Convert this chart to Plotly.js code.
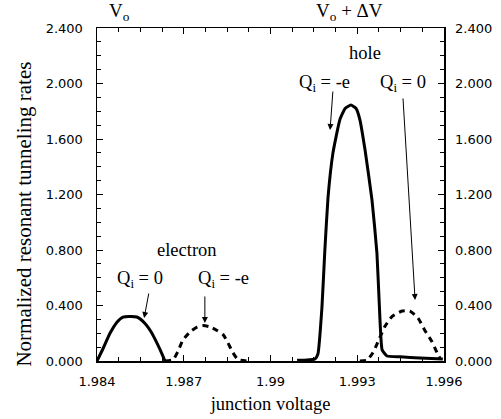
<!DOCTYPE html>
<html>
<head>
<meta charset="utf-8">
<script src="https://cdn.plot.ly/plotly-3.0.1.min.js"></script>
<style>html,body{margin:0;padding:0;background:#fff}#chart{width:501px;height:419px}</style>
</head>
<body>
<div id="chart"></div>
<script>
// Electron, Q_i = 0 (solid)
const elecQ0_x = [1.98400, 1.98421, 1.98445, 1.98469, 1.98490, 1.98514, 1.98538, 1.98566, 1.98590, 1.98607, 1.98625, 1.98635];
const elecQ0_y = [0.000, 0.090, 0.200, 0.280, 0.317, 0.320, 0.317, 0.270, 0.200, 0.130, 0.050, 0.000];
// Electron, Q_i = -e (dashed)
const elecQe_x = [1.98635, 1.98663, 1.98680, 1.98697, 1.98722, 1.98746, 1.98767, 1.98791, 1.98815, 1.98836, 1.98853, 1.98870, 1.98888, 1.98919];
const elecQe_y = [0.000, 0.010, 0.070, 0.150, 0.210, 0.245, 0.255, 0.245, 0.220, 0.190, 0.130, 0.060, 0.010, 0.000];
// Hole, Q_i = -e (solid)
const holeQe_x = [1.99092, 1.99154, 1.99164, 1.99178, 1.99188, 1.99199, 1.99216, 1.99240, 1.99258, 1.99278, 1.99296, 1.99309, 1.99327, 1.99351, 1.99368, 1.99376, 1.99386, 1.99403, 1.99448, 1.99517, 1.99596];
const holeQe_y = [0.005, 0.015, 0.050, 0.390, 0.800, 1.180, 1.500, 1.740, 1.820, 1.845, 1.820, 1.740, 1.520, 1.160, 0.780, 0.420, 0.080, 0.036, 0.030, 0.022, 0.014];
// Hole, Q_i = 0 (dashed)
const holeQ0_x = [1.99309, 1.99334, 1.99354, 1.99372, 1.99396, 1.99420, 1.99455, 1.99482, 1.99510, 1.99534, 1.99558, 1.99576, 1.99586];
const holeQ0_y = [0.000, 0.007, 0.060, 0.140, 0.250, 0.320, 0.360, 0.360, 0.310, 0.220, 0.140, 0.060, 0.020];

const xTickVals = [1.984, 1.987, 1.99, 1.993, 1.996];
const xTickText = ["1.984", "1.987", "1.99", "1.993", "1.996"];
const yTickVals = [0, 0.4, 0.8, 1.2, 1.6, 2.0, 2.4];
const yTickText = ["0.000", "0.400", "0.800", "1.200", "1.600", "2.000", "2.400"];

const serif = "Liberation Serif, Times New Roman, serif";
const sans = "DejaVu Sans, sans-serif";

const traces = [
  {x: elecQ0_x, y: elecQ0_y, mode: 'lines', line: {color: '#000', width: 3, shape: 'spline', smoothing: 0.6}, showlegend: false, hoverinfo: 'skip'},
  {x: elecQe_x, y: elecQe_y, mode: 'lines', line: {color: '#000', width: 3, dash: '6px,5px', shape: 'spline', smoothing: 0.6}, showlegend: false, hoverinfo: 'skip'},
  {x: holeQe_x, y: holeQe_y, mode: 'lines', line: {color: '#000', width: 3, shape: 'spline', smoothing: 0.4}, showlegend: false, hoverinfo: 'skip'},
  {x: holeQ0_x, y: holeQ0_y, mode: 'lines', line: {color: '#000', width: 3, dash: '6px,5px', shape: 'spline', smoothing: 0.6}, showlegend: false, hoverinfo: 'skip'},
  {x: [null], y: [null], yaxis: 'y2', mode: 'lines', showlegend: false, hoverinfo: 'skip'}
];

const annFont = {family: serif, size: 18.5, color: '#000'};
function label(x, y, text) {
  return {x: x, y: y, xref: 'x', yref: 'y', text: text, showarrow: false, font: annFont};
}
function arrow(x0, y0, x1, y1) {
  return {x: x1, y: y1, ax: x0, ay: y0, xref: 'x', yref: 'y', axref: 'x', ayref: 'y',
          text: '', showarrow: true, arrowhead: 2, arrowsize: 1.2, arrowwidth: 1, arrowcolor: '#000'};
}

const layout = {
  width: 501, height: 419,
  margin: {l: 97, r: 57, t: 28, b: 58},
  paper_bgcolor: '#fff', plot_bgcolor: '#fff',
  xaxis: {
    range: [1.984, 1.996], tickvals: xTickVals, ticktext: xTickText,
    ticks: 'inside', ticklen: 6, tickwidth: 1, tickcolor: '#000',
    minor: {dtick: 0.00075, tick0: 1.984, ticks: 'inside', ticklen: 4, tickwidth: 1, tickcolor: '#000'},
    showline: true, linecolor: '#000', linewidth: 1.5, mirror: 'ticks',
    showgrid: false, zeroline: false,
    tickfont: {family: sans, size: 13, color: '#000'}, ticklabelstandoff: 8,
    title: {text: 'junction voltage', font: {family: serif, size: 18.5, color: '#000'}, standoff: 9}
  },
  yaxis: {
    range: [0, 2.4], tickvals: yTickVals, ticktext: yTickText,
    ticks: 'inside', ticklen: 6, tickwidth: 1, tickcolor: '#000',
    minor: {dtick: 0.1, tick0: 0, ticks: 'inside', ticklen: 4, tickwidth: 1, tickcolor: '#000'},
    showline: true, linecolor: '#000', linewidth: 1.5, mirror: 'ticks',
    showgrid: false, zeroline: false,
    tickfont: {family: sans, size: 13, color: '#000'}, ticklabelstandoff: 10
  },
  yaxis2: {
    overlaying: 'y', side: 'right', range: [0, 2.4], tickvals: yTickVals, ticktext: yTickText,
    ticks: '', showline: false, showgrid: false, zeroline: false,
    tickfont: {family: sans, size: 13, color: '#000'}, ticklabelstandoff: 10
  },
  annotations: [
    {x: -0.21, y: 0.44, xref: 'paper', yref: 'paper', xanchor: 'center', yanchor: 'middle', textangle: -90,
     text: 'Normalized resonant tunneling rates', showarrow: false, font: {family: serif, size: 21, color: '#000'}},
    {x: 0.064, y: 1.048, xref: 'paper', yref: 'paper', xanchor: 'center', yanchor: 'middle', text: 'V<sub>o</sub>', showarrow: false, font: {family: serif, size: 19, color: '#000'}},
    {x: 0.729, y: 1.048, xref: 'paper', yref: 'paper', xanchor: 'center', yanchor: 'middle', text: 'V<sub>o</sub> + ΔV', showarrow: false, font: {family: serif, size: 19, color: '#000'}},
    label(1.98711, 0.80, 'electron'),
    label(1.98549, 0.584, 'Q<sub>i</sub> = 0'),
    label(1.98836, 0.584, 'Q<sub>i</sub> = -e'),
    label(1.99327, 2.22, 'hole'),
    label(1.99188, 2.00, 'Q<sub>i</sub> = -e'),
    label(1.99458, 2.00, 'Q<sub>i</sub> = 0'),
    arrow(1.98580, 0.497, 1.98563, 0.31),
    arrow(1.98773, 0.476, 1.98773, 0.274),
    arrow(1.99216, 1.953, 1.99206, 1.665),
    arrow(1.99458, 1.903, 1.99500, 0.44)
  ]
};

Plotly.newPlot('chart', traces, layout, {staticPlot: true, displayModeBar: false});
</script>
</body>
</html>
